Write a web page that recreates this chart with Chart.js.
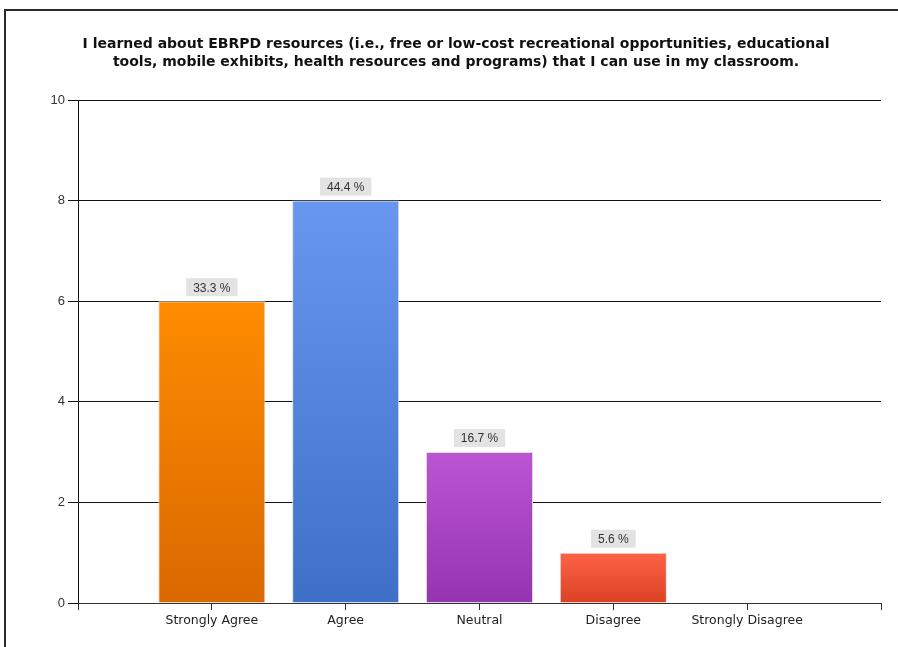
<!DOCTYPE html>
<html>
<head>
<meta charset="utf-8">
<script src="https://cdn.jsdelivr.net/npm/chart.js@4"></script>
<style>
    html, body { margin: 0; padding: 0; background: #fff; overflow: hidden; width: 898px; height: 647px; }
    #frame { position: absolute; left: 4px; top: 9px; width: 1000px; height: 1000px;
             border-top: 2px solid #2a2a2a; border-left: 2px solid #2a2a2a; }
    #wrap { position: absolute; left: 0; top: 0; width: 912px; height: 647px; }
</style>
</head>
<body>
<div id="frame"></div>
<div id="wrap"><canvas id="surveyChart" width="912" height="647"></canvas></div>
<script>
// survey answers
const categories = ['Strongly Agree', 'Agree', 'Neutral', 'Disagree', 'Strongly Disagree'];
const counts = [6, 8, 3, 1, 0];
const percentLabels = ['33.3 %', '44.4 %', '16.7 %', '5.6 %', '0 %'];
const yTicks = [0, 2, 4, 6, 8, 10];

// gradient colours per bar (top, bottom)
const topColors = ['#ff8c00', '#6797ee', '#bb55d3', '#ff6347'];
const bottomColors = ['#da6800', '#3f70c8', '#9533b0', '#da4124'];

document.addEventListener('DOMContentLoaded', function () {
    const ctx = document.getElementById('surveyChart');
    if (!ctx) return;

    Chart.defaults.font.family = '"Liberation Sans", Arial, sans-serif';
    Chart.defaults.color = '#333';

    // empty slot on each side so the bars sit on the ticks
    const labels = [''].concat(categories, ['']);
    const values = [null].concat(counts, [null]);
    const pctText = [''].concat(percentLabels, ['']);

    // grey boxes with the percentage above each bar
    const valueLabels = {
        id: 'valueLabels',
        afterDatasetsDraw(chart) {
            const c = chart.ctx;
            const meta = chart.getDatasetMeta(0);
            c.save();
            c.font = '12px "Liberation Sans", Arial, sans-serif';
            c.textAlign = 'center';
            c.textBaseline = 'middle';
            meta.data.forEach(function (bar, i) {
                if (!values[i]) return;
                const w = c.measureText(pctText[i]).width + 14;
                const h = 18;
                const bottom = bar.y - 5;
                c.fillStyle = '#e3e3e3';
                c.fillRect(bar.x - w / 2, bottom - h, w, h);
                c.fillStyle = '#333';
                c.fillText(pctText[i], bar.x, bottom - h / 2 + 1);
            });
            c.restore();
        }
    };

    new Chart(ctx, {
        type: 'bar',
        data: {
            labels: labels,
            datasets: [{
                data: values,
                backgroundColor: function (context) {
                    const chart = context.chart;
                    const idx = context.dataIndex - 1;
                    if (idx < 0 || idx >= topColors.length) return '#ccc';
                    if (!chart.chartArea) return topColors[idx];
                    const y = chart.scales.y;
                    const g = chart.ctx.createLinearGradient(0, y.getPixelForValue(values[context.dataIndex]), 0, y.getPixelForValue(0));
                    g.addColorStop(0, topColors[idx]);
                    g.addColorStop(1, bottomColors[idx]);
                    return g;
                },
                borderColor: '#dcdcdc',
                borderWidth: 1,
                borderSkipped: 'bottom',
                barPercentage: 0.8,
                categoryPercentage: 1
            }]
        },
        options: {
            responsive: false,
            animation: false,
            devicePixelRatio: 1,
            layout: { padding: { left: 31, right: 31, top: 0, bottom: 0 } },
            plugins: {
                legend: { display: false },
                tooltip: { enabled: false },
                title: {
                    display: true,
                    text: [
                        'I learned about EBRPD resources (i.e., free or low-cost recreational opportunities, educational',
                        'tools, mobile exhibits, health resources and programs) that I can use in my classroom.'
                    ],
                    color: '#111',
                    font: { family: '"DejaVu Sans", Verdana, sans-serif', size: 14, weight: 'bold', lineHeight: '18px' },
                    padding: { top: 35, bottom: 29 }
                }
            },
            scales: {
                x: {
                    offset: false,
                    grid: {
                        offset: false,
                        drawOnChartArea: false,
                        color: '#333',
                        tickLength: 7
                    },
                    border: { color: '#333', width: 1 },
                    ticks: {
                        autoSkip: false,
                        maxRotation: 0,
                        padding: 3,
                        color: '#222',
                        font: { family: '"DejaVu Sans", Verdana, sans-serif', size: 12.5 }
                    },
                    afterFit: function (scale) { scale.height = 44; }
                },
                y: {
                    min: 0,
                    max: 10,
                    afterBuildTicks: function (scale) {
                        scale.ticks = yTicks.map(function (v) { return { value: v }; });
                    },
                    grid: {
                        color: '#111',
                        lineWidth: 1,
                        tickLength: 10
                    },
                    border: { color: '#111', width: 1 },
                    ticks: {
                        padding: 3,
                        color: '#333',
                        font: { size: 13 }
                    },
                    afterFit: function (scale) { scale.width = 47; }
                }
            }
        },
        plugins: [valueLabels]
    });
});
</script>
</body>
</html>
